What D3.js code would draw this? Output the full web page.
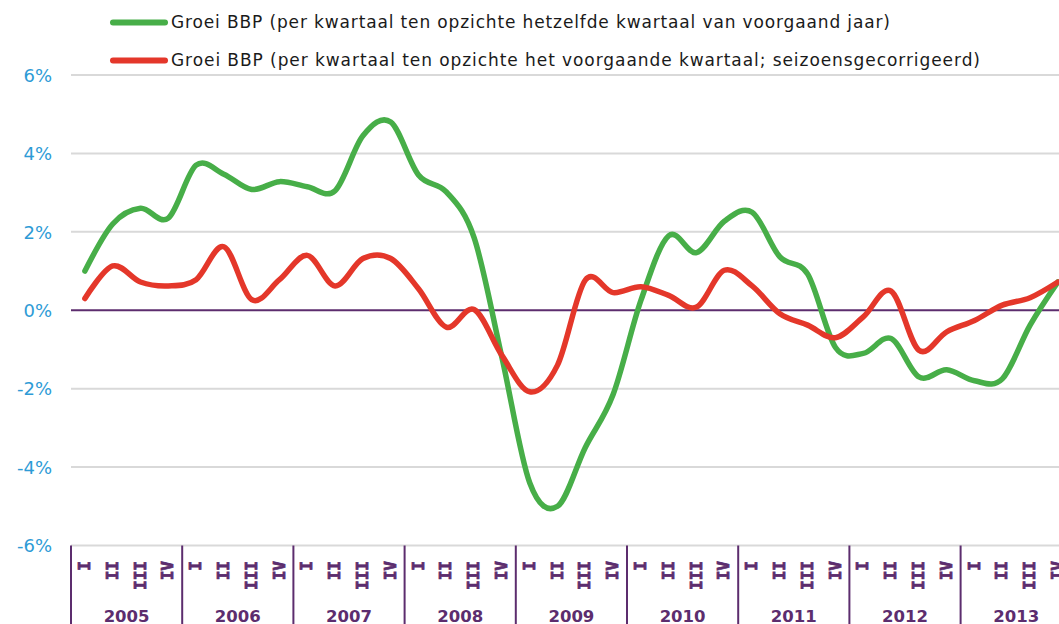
<!DOCTYPE html>
<html>
<head>
<meta charset="utf-8">
<script src="https://cdn.jsdelivr.net/npm/d3@7"></script>
<style>
  html, body { margin: 0; padding: 0; background: #fff; overflow: hidden; }
  svg { display: block; }
</style>
</head>
<body>
<svg id="chart" width="1059" height="624"></svg>
<script>
// ---- data ----
const years = ["2005", "2006", "2007", "2008", "2009", "2010", "2011", "2012", "2013"];
const quarterLabels = ["I", "II", "III", "IV"];
const yTicks = [-6, -4, -2, 0, 2, 4, 6];
const seriesNames = [
  "Groei BBP (per kwartaal ten opzichte hetzelfde kwartaal van voorgaand jaar)",
  "Groei BBP (per kwartaal ten opzichte het voorgaande kwartaal; seizoensgecorrigeerd)"
];
const greenValues = [1.0, 2.2, 2.6, 2.35, 3.7, 3.47, 3.08, 3.28, 3.15, 3.05, 4.45, 4.8,
  3.45, 3.02, 1.85, -1.2, -4.4, -5.0, -3.5, -2.15, 0.25, 1.9, 1.47, 2.27,
  2.5, 1.36, 0.92, -0.95, -1.1, -0.72, -1.7, -1.52, -1.8, -1.75, -0.38, 0.72];
const redValues = [0.3, 1.13, 0.72, 0.62, 0.78, 1.62, 0.27, 0.78, 1.4, 0.62, 1.32, 1.32,
  0.55, -0.43, 0.02, -1.15, -2.08, -1.4, 0.77, 0.45, 0.6, 0.38, 0.08, 1.02,
  0.62, -0.09, -0.38, -0.7, -0.17, 0.49, -1.02, -0.55, -0.26, 0.13, 0.32, 0.72];

// ---- layout ----
const svg = d3.select("#chart");
const nQ = years.length * 4;
const x = d3.scaleLinear().domain([0, nQ]).range([71, 71 + nQ * 27.8]);
const y = d3.scaleLinear().domain([-6, 6]).range([545.5, 75]);
const purple = "#5c2d6e";
const colors = ["#47ae48", "#e4372a"];

// grid lines
svg.append("g").selectAll("line").data(yTicks.filter(d => d !== 0)).join("line")
  .attr("x1", 71).attr("x2", 1059)
  .attr("y1", d => y(d)).attr("y2", d => y(d))
  .attr("stroke", "#d9d9d9").attr("stroke-width", 2);

// y axis labels
const yAxis = d3.axisLeft(y).tickValues(yTicks).tickFormat(d => d + "%").tickSize(0).tickPadding(0);
const yg = svg.append("g").attr("transform", "translate(52,0)").call(yAxis);
yg.select(".domain").remove();
yg.selectAll("text")
  .attr("fill", "#2e9bd6")
  .style("font-family", "'DejaVu Sans', Verdana, sans-serif")
  .style("font-size", "18px")
  .attr("dy", "0.35em");

// zero line
svg.append("line")
  .attr("x1", 71).attr("x2", 1059)
  .attr("y1", y(0)).attr("y2", y(0))
  .attr("stroke", purple).attr("stroke-width", 2);

// year separators
svg.append("g").selectAll("line").data(d3.range(years.length + 1)).join("line")
  .attr("x1", d => x(d * 4)).attr("x2", d => x(d * 4))
  .attr("y1", y(-6)).attr("y2", 624)
  .attr("stroke", purple).attr("stroke-width", 2);

// quarter labels
const qData = d3.range(nQ).map(i => ({ i, label: quarterLabels[i % 4] }));
svg.append("g").selectAll("text").data(qData).join("text")
  .attr("transform", d => `translate(${x(d.i + 0.5) + 5},561) rotate(-90)`)
  .attr("text-anchor", "end")
  .attr("fill", purple)
  .attr("stroke", purple)
  .attr("stroke-width", 0.8)
  .style("font-family", "'DejaVu Sans Mono', monospace")
  .style("font-weight", "bold")
  .style("font-size", "16px")
  .text(d => d.label);

// year labels
svg.append("g").selectAll("text").data(years).join("text")
  .attr("x", (d, k) => x(k * 4 + 2))
  .attr("y", 621.5)
  .attr("text-anchor", "middle")
  .attr("fill", purple)
  .style("font-family", "'DejaVu Sans', Verdana, sans-serif")
  .style("font-weight", "bold")
  .style("font-size", "16.5px")
  .text(d => d);

// lines
const line = d3.line()
  .x((d, i) => x(i + 0.5))
  .y(d => y(d))
  .curve(d3.curveCatmullRom.alpha(0));

[greenValues, redValues].forEach((vals, k) => {
  svg.append("path")
    .datum(vals)
    .attr("fill", "none")
    .attr("stroke", colors[k])
    .attr("stroke-width", 5.5)
    .attr("stroke-linecap", "round")
    .attr("stroke-linejoin", "round")
    .attr("d", line);
});

// legend
const legendY = [22.5, 60.5];
const legendW = [719, 809];
seriesNames.forEach((name, k) => {
  svg.append("line")
    .attr("x1", 113).attr("x2", 165)
    .attr("y1", legendY[k]).attr("y2", legendY[k])
    .attr("stroke", colors[k]).attr("stroke-width", 6)
    .attr("stroke-linecap", "round");
  svg.append("text")
    .attr("x", 171).attr("y", legendY[k])
    .attr("dy", "0.35em")
    .attr("fill", "#1a1a1a")
    .attr("textLength", legendW[k])
    .attr("lengthAdjust", "spacing")
    .style("font-family", "'DejaVu Sans', Verdana, sans-serif")
    .style("font-size", "17px")
    .text(name);
});
</script>
</body>
</html>
